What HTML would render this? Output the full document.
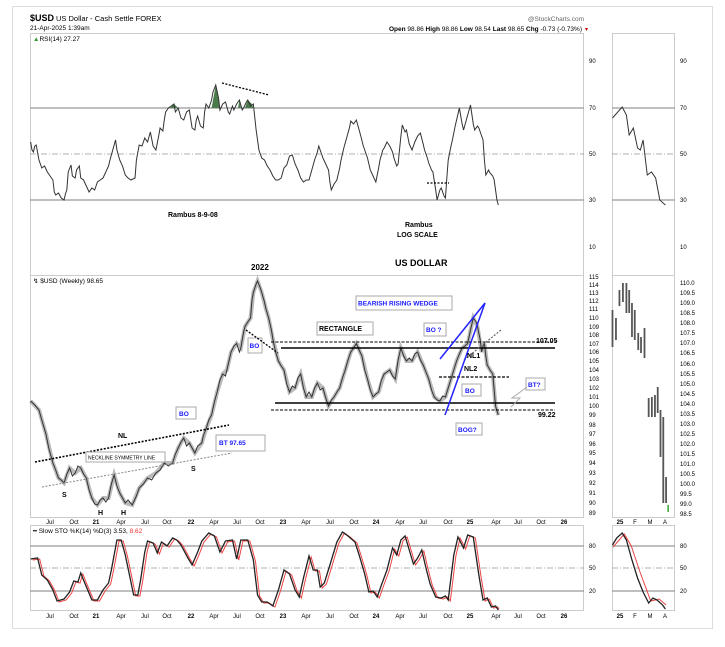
<!DOCTYPE html>
<html><head><meta charset="utf-8"><style>
html,body{margin:0;padding:0;background:#fff;width:725px;height:647px;overflow:hidden}
svg{display:block;font-family:"Liberation Sans",sans-serif}
.t{font-size:7px;fill:#000}
.b{font-weight:bold}
.bl{fill:#1a1aff;font-weight:bold;font-size:6.5px}
</style></head><body>
<svg width="725" height="647" viewBox="0 0 725 647">
<rect x="12.5" y="6.5" width="700" height="622" fill="#fff" stroke="#ddd"/>
<text x="30" y="21" font-size="9" font-weight="bold">$USD</text><text x="56" y="21" font-size="7.5">US Dollar - Cash Settle FOREX</text>
<text x="30" y="30" font-size="6.5">21-Apr-2025 1:39am</text>
<text x="584" y="21" font-size="6.5" fill="#666" text-anchor="end">@StockCharts.com</text>
<text x="582" y="31" font-size="6.5" text-anchor="end"><tspan font-weight="bold">Open</tspan> 98.86 <tspan font-weight="bold">High</tspan> 98.86 <tspan font-weight="bold">Low</tspan> 98.54 <tspan font-weight="bold">Last</tspan> 98.65 <tspan font-weight="bold">Chg</tspan> -0.73 (-0.73%)</text>
<text x="585" y="31" font-size="6" fill="#c00">▾</text>
<g fill="none" stroke="#ccc">
<rect x="30.5" y="33.5" width="553" height="242"/>
<rect x="30.5" y="275.5" width="553" height="242"/>
<rect x="30.5" y="525.5" width="553" height="85"/>
<rect x="612.5" y="33.5" width="62" height="242"/>
<rect x="612.5" y="275.5" width="62" height="242"/>
<rect x="612.5" y="525.5" width="62" height="85"/>
</g>
<text x="33" y="41" font-size="6.5"><tspan fill="#393">▲</tspan>RSI(14) 27.27</text>
<text x="33" y="283" font-size="6.5">↯ $USD (Weekly) 98.65</text>
<text x="33" y="533" font-size="6.5">━ Slow STO %K(14) %D(3) 3.53, <tspan fill="#e33">8.62</tspan></text>
<g stroke="#999" stroke-width="1.2">
<line x1="30" y1="108" x2="584" y2="108"/><line x1="30" y1="200" x2="584" y2="200"/>
<line x1="612" y1="108" x2="675" y2="108"/><line x1="612" y1="200" x2="675" y2="200"/>
<line x1="30" y1="546" x2="584" y2="546"/><line x1="30" y1="591" x2="584" y2="591"/>
<line x1="612" y1="546" x2="675" y2="546"/><line x1="612" y1="591" x2="675" y2="591"/>
</g>
<g stroke="#999" stroke-width="0.8" stroke-dasharray="6,2,1,2">
<line x1="30" y1="154" x2="584" y2="154"/><line x1="612" y1="154" x2="675" y2="154"/>
<line x1="30" y1="568" x2="584" y2="568"/><line x1="612" y1="568" x2="675" y2="568"/>
</g>
<g font-size="6" fill="#000">
<text x="589" y="63">90</text><text x="589" y="110">70</text><text x="589" y="156">50</text><text x="589" y="202">30</text><text x="589" y="249">10</text>
<text x="680" y="63">90</text><text x="680" y="110">70</text><text x="680" y="156">50</text><text x="680" y="202">30</text><text x="680" y="249">10</text>
<text x="589" y="548">80</text><text x="589" y="570">50</text><text x="589" y="593">20</text>
<text x="680" y="548">80</text><text x="680" y="570">50</text><text x="680" y="593">20</text>
<text x="589" y="279">115</text><text x="589" y="287">114</text><text x="589" y="295">113</text><text x="589" y="303">112</text><text x="589" y="311">111</text><text x="589" y="320">110</text><text x="589" y="329">109</text><text x="589" y="337">108</text><text x="589" y="346">107</text><text x="589" y="354">106</text><text x="589" y="363">105</text><text x="589" y="372">104</text><text x="589" y="381">103</text><text x="589" y="390">102</text><text x="589" y="399">101</text><text x="589" y="408">100</text><text x="589" y="417">99</text><text x="589" y="427">98</text><text x="589" y="436">97</text><text x="589" y="446">96</text><text x="589" y="455">95</text><text x="589" y="465">94</text><text x="589" y="475">93</text><text x="589" y="485">92</text><text x="589" y="495">91</text><text x="589" y="505">90</text><text x="589" y="515">89</text>
<text x="680" y="285">110.0</text><text x="680" y="295">109.5</text><text x="680" y="305">109.0</text><text x="680" y="315">108.5</text><text x="680" y="325">108.0</text><text x="680" y="335">107.5</text><text x="680" y="345">107.0</text><text x="680" y="355">106.5</text><text x="680" y="366">106.0</text><text x="680" y="376">105.5</text><text x="680" y="386">105.0</text><text x="680" y="396">104.5</text><text x="680" y="406">104.0</text><text x="680" y="416">103.5</text><text x="680" y="426">103.0</text><text x="680" y="436">102.5</text><text x="680" y="446">102.0</text><text x="680" y="456">101.5</text><text x="680" y="466">101.0</text><text x="680" y="476">100.5</text><text x="680" y="486">100.0</text><text x="680" y="496">99.5</text><text x="680" y="506">99.0</text><text x="680" y="516">98.5</text>
</g>
<g font-size="6" text-anchor="middle">
<g transform="translate(0,524)"><text x="50">Jul</text><text x="74">Oct</text><text x="96" font-weight="bold">21</text><text x="121">Apr</text><text x="145">Jul</text><text x="167">Oct</text><text x="191" font-weight="bold">22</text><text x="214">Apr</text><text x="237">Jul</text><text x="260">Oct</text><text x="283" font-weight="bold">23</text><text x="306">Apr</text><text x="330">Jul</text><text x="354">Oct</text><text x="376" font-weight="bold">24</text><text x="400">Apr</text><text x="423">Jul</text><text x="448">Oct</text><text x="470" font-weight="bold">25</text><text x="496">Apr</text><text x="518">Jul</text><text x="541">Oct</text><text x="564" font-weight="bold">26</text><text x="620" font-weight="bold">25</text><text x="635">F</text><text x="650">M</text><text x="665">A</text></g>
<g transform="translate(0,618)"><text x="50">Jul</text><text x="74">Oct</text><text x="96" font-weight="bold">21</text><text x="121">Apr</text><text x="145">Jul</text><text x="167">Oct</text><text x="191" font-weight="bold">22</text><text x="214">Apr</text><text x="237">Jul</text><text x="260">Oct</text><text x="283" font-weight="bold">23</text><text x="306">Apr</text><text x="330">Jul</text><text x="354">Oct</text><text x="376" font-weight="bold">24</text><text x="400">Apr</text><text x="423">Jul</text><text x="448">Oct</text><text x="470" font-weight="bold">25</text><text x="496">Apr</text><text x="518">Jul</text><text x="541">Oct</text><text x="564" font-weight="bold">26</text><text x="620" font-weight="bold">25</text><text x="635">F</text><text x="650">M</text><text x="665">A</text></g>
</g>
<g transform="scale(1.392 1)" fill="none">
<polygon fill="#4a7a4a" stroke="none" points="122,108 125,104 128,108"/>
<polygon fill="#4a7a4a" stroke="none" points="152,108 155,85 158,108"/>
<polygon fill="#4a7a4a" stroke="none" points="171,108 172,100 173,108"/>
<polygon fill="#4a7a4a" stroke="none" points="176,108 178,100 181,104 182,108"/>
<polyline vector-effect="non-scaling-stroke" stroke="#333" stroke-width="1" points="22,142 23,150 24,152 25,146 26,145 28,160 30,168 32,166 34,172 36,176 38,180 39,192 40,195 42,193 44,198 46,200 47,194 48,190 49,172 51,165 52,176 54,178 55,170 57,166 58,178 60,180 62,186 64,192 66,188 68,190 70,182 72,180 74,178 76,172 78,166 79,160 81,150 83,140 84,150 86,160 88,166 90,175 92,178 94,180 97,178 98,160 100,145 102,146 104,138 106,142 108,132 110,146 112,150 114,136 115,128 117,131 118,120 119,112 121,108 123,106 125,104 126,112 128,108 130,118 132,120 134,112 136,110 138,128 140,130 141,120 142,116 144,126 146,128 147,112 148,104 150,108 152,100 153,92 155,85 157,98 158,110 160,104 162,102 164,112 165,114 167,106 168,110 170,104 172,100 174,110 175,108 177,102 178,100 180,106 182,104 184,130 186,150 188,158 190,160 192,166 194,170 196,176 198,180 200,180 202,178 204,168 206,165 208,156 210,155 212,164 214,170 216,178 218,182 220,180 222,180 224,170 226,160 228,152 229,146 231,154 232,158 234,164 236,170 237,182 238,190 240,184 242,180 244,168 245,160 247,148 249,138 251,128 252,121 254,124 256,120 258,130 259,135 261,146 262,150 264,158 266,170 268,176 270,182 272,168 273,160 275,150 276,148 278,142 280,146 282,152 283,158 285,166 286,164 288,136 289,125 291,132 292,130 294,144 296,150 298,142 300,136 302,133 304,144 305,150 307,158 308,163 310,170 311,172 313,190 314,200 316,190 317,188 319,196 320,198 321,178 322,160 324,146 325,140 327,126 330,108 332,124 333,130 335,120 336,115 338,105 340,124 341,130 343,126 344,128 346,136 347,140 348,160 349,175 351,170 352,173 354,176 355,180 356,190 357,200 358,205"/>
<polyline vector-effect="non-scaling-stroke" stroke="#333" stroke-width="1" points="440,118 447,107 450,115 452,135 455,128 458,148 460,150 462,140 465,175 468,172 471,178 474,200 478,205"/>
<polyline vector-effect="non-scaling-stroke" stroke="#777" stroke-width="4" opacity="0.5" points="22,401 28,410 33,434 38,463 42,478 46,483 50,468 54,473 58,468 62,478 66,498 70,505 74,498 78,498 82,475 86,493 90,503 95,505 100,488 106,478 112,473 118,463 124,463 128,448 132,438 136,443 140,453 145,443 148,429 152,415 156,392 160,374 163,370 166,352 170,343.5 173,348 176,326.5 180,318 182,292.5 185,281 188,292.5 191,308.6 193,318 196,339 200,361 204,370 208,392 212,388 216,374 220,397 224,397 228,383 232,388 236,406 240,397 244,388 248,370 252,352 256,343.5 260,356 264,379 268,397 272,392 276,374 280,370 284,379 288,348 292,361 296,361 300,352 304,365 308,379 312,397 316,401 320,397 324,379 328,361 332,348 336,343.5 340,318 343,326.5 346,352 348,343.5 350,365 352,370 354,374 356,406 358,415"/>
<polyline vector-effect="non-scaling-stroke" stroke="#333" stroke-width="1" points="22,401 25,405 28,410 30,420 33,434 35,448 38,463 40,470 42,478 44,480 46,483 48,474 50,468 52,476 54,473 56,466 58,468 60,474 62,478 64,490 66,498 68,504 70,505 72,500 74,498 76,502 78,498 80,484 82,475 84,486 86,493 88,498 90,503 92,500 95,505 98,496 100,488 103,484 106,478 109,480 112,473 115,470 118,463 121,466 124,463 126,454 128,448 130,442 132,438 134,446 136,443 138,448 140,453 142,446 145,443 146,436 148,429 150,420 152,415 154,402 156,392 158,380 160,374 162,376 163,370 165,358 166,352 168,346 170,343.5 172,352 173,348 175,332 176,326.5 178,322 180,318 181,300 182,292.5 184,284 185,281 187,288 188,292.5 190,302 191,308.6 193,318 195,330 196,339 198,352 200,361 202,366 204,370 206,384 208,392 210,386 212,388 214,378 216,374 218,388 220,397 222,392 224,397 226,388 228,383 230,390 232,388 234,398 236,406 238,400 240,397 242,392 244,388 246,378 248,370 250,360 252,352 254,348 256,343.5 258,350 260,356 262,370 264,379 266,390 268,397 270,394 272,392 274,380 276,374 278,372 280,370 282,376 284,379 286,360 288,348 290,356 292,361 294,358 296,361 298,354 300,352 302,360 304,365 306,372 308,379 310,390 312,397 314,400 316,401 318,396 320,397 322,388 324,379 326,370 328,361 330,354 332,348 334,346 336,343.5 338,330 340,318 342,322 343,326.5 345,340 346,352 347,346 348,343.5 349,356 350,365 352,370 354,374 355,390 356,406 357,411 358,415"/>
<g stroke="#555" stroke-width="1.8">
<line x1="440" y1="310" x2="440" y2="347" vector-effect="non-scaling-stroke"/>
<line x1="442.5" y1="318" x2="442.5" y2="340" vector-effect="non-scaling-stroke"/>
<line x1="445" y1="290" x2="445" y2="306" vector-effect="non-scaling-stroke"/>
<line x1="447.5" y1="283" x2="447.5" y2="302" vector-effect="non-scaling-stroke"/>
<line x1="450" y1="283" x2="450" y2="313" vector-effect="non-scaling-stroke"/>
<line x1="452" y1="290" x2="452" y2="313" vector-effect="non-scaling-stroke"/>
<line x1="454" y1="303" x2="454" y2="337" vector-effect="non-scaling-stroke"/>
<line x1="456" y1="310" x2="456" y2="340" vector-effect="non-scaling-stroke"/>
<line x1="458.5" y1="333" x2="458.5" y2="350" vector-effect="non-scaling-stroke"/>
<line x1="460.5" y1="337" x2="460.5" y2="353" vector-effect="non-scaling-stroke"/>
<line x1="463" y1="328" x2="463" y2="358" vector-effect="non-scaling-stroke"/>
<line x1="466" y1="398" x2="466" y2="417" vector-effect="non-scaling-stroke"/>
<line x1="468.3" y1="397" x2="468.3" y2="417" vector-effect="non-scaling-stroke"/>
<line x1="470.5" y1="395" x2="470.5" y2="417" vector-effect="non-scaling-stroke"/>
<line x1="472.5" y1="387" x2="472.5" y2="413" vector-effect="non-scaling-stroke"/>
<line x1="474.5" y1="410" x2="474.5" y2="457" vector-effect="non-scaling-stroke"/>
<line x1="476.5" y1="417" x2="476.5" y2="503" vector-effect="non-scaling-stroke"/>
<line x1="478.5" y1="477" x2="478.5" y2="503" vector-effect="non-scaling-stroke"/>
</g>
<line x1="480" y1="505" x2="480" y2="512" stroke="#3a3" stroke-width="1.5" vector-effect="non-scaling-stroke"/>
<g transform="translate(1.5,1)"><polyline vector-effect="non-scaling-stroke" stroke="#e44" stroke-width="1" points="22,559 27,558 30,575 34,580 38,590 41,601 46,599 50,592 53,581 56,582 58,573 60,580 63,590 66,600 70,600 74,590 78,583 80,570 84,540 87,540 90,555 93,575 96,595 99,595 101,580 104,552 106,541 110,543 113,553 116,542 120,546 124,538 127,540 130,545 135,558 138,565 142,552 145,541 150,533 154,536 158,552 162,541 167,540 170,559 173,540 178,540 182,560 185,595 188,602 192,602 196,606 200,590 204,570 208,574 212,590 215,597 218,578 222,556 225,570 228,570 230,587 233,583 237,565 242,542 246,532 250,536 255,542 258,555 262,574 265,592 268,591 271,597 274,585 278,570 282,548 285,555 288,540 291,536 294,550 297,564 300,558 303,550 306,568 309,584 313,597 317,598 320,596 322,600 326,555 329,537 333,548 336,535 340,537 344,575 347,600 350,598 353,607 356,606 357,608"/>
<polyline vector-effect="non-scaling-stroke" stroke="#e44" stroke-width="1" points="439,546 447,533 452,545 458,570 466,600 472,598 477,604"/></g>
<polyline vector-effect="non-scaling-stroke" stroke="#222" stroke-width="1.3" points="22,559 27,558 30,575 34,580 38,590 41,601 46,599 50,592 53,581 56,582 58,573 60,580 63,590 66,600 70,600 74,590 78,583 80,570 84,540 87,540 90,555 93,575 96,595 99,595 101,580 104,552 106,541 110,543 113,553 116,542 120,546 124,538 127,540 130,545 135,558 138,565 142,552 145,541 150,533 154,536 158,552 162,541 167,540 170,559 173,540 178,540 182,560 185,595 188,602 192,602 196,606 200,590 204,570 208,574 212,590 215,597 218,578 222,556 225,570 228,570 230,587 233,583 237,565 242,542 246,532 250,536 255,542 258,555 262,574 265,592 268,591 271,597 274,585 278,570 282,548 285,555 288,540 291,536 294,550 297,564 300,558 303,550 306,568 309,584 313,597 317,598 320,596 322,600 326,555 329,537 333,548 336,535 340,537 344,575 347,600 350,598 353,607 356,606 358,610"/>
<polyline vector-effect="non-scaling-stroke" stroke="#222" stroke-width="1.3" points="440,545 443,538 447,533 450,540 454,560 458,578 462,592 466,603 469,598 472,600 476,605 478,609"/>
</g>
<line x1="222" y1="83" x2="269" y2="95" stroke="#000" stroke-dasharray="2,1.5" stroke-width="1.3"/>
<line x1="427" y1="183" x2="449" y2="183" stroke="#000" stroke-dasharray="2,1.5" stroke-width="1.3"/>
<text x="168" y="217" class="t b" font-size="6.5">Rambus  8-9-08</text>
<text x="405" y="227" class="t b">Rambus</text>
<text x="397" y="237" class="t b" font-size="6">LOG SCALE</text>
<text x="395" y="266" font-size="9" font-weight="bold">US DOLLAR</text>
<text x="251" y="270" font-size="8" font-weight="bold">2022</text>
<line x1="35" y1="462" x2="229" y2="425" stroke="#000" stroke-dasharray="2,1.5" stroke-width="1.6"/>
<line x1="42" y1="487" x2="232" y2="453" stroke="#888" stroke-dasharray="2,1.5" stroke-width="1"/>
<text x="118" y="438" class="t b" font-size="8">NL</text>
<rect x="86" y="452" width="79" height="10" fill="#fff" stroke="#aaa"/>
<text x="88" y="459.5" font-size="5">NECKLINE SYMMETRY LINE</text>
<text x="62" y="497" class="t b" font-size="7.5">S</text><text x="98" y="515" class="t b" font-size="7.5">H</text><text x="121" y="515" class="t b" font-size="7.5">H</text><text x="191" y="471" class="t b" font-size="7.5">S</text>
<rect x="176" y="407" width="20" height="12" fill="#fff" stroke="#aaa"/><text x="179" y="416" class="bl">BO</text>
<rect x="216" y="435" width="49" height="16" fill="#fff" stroke="#aaa"/><text x="219" y="445" class="bl">BT 97.65</text>
<rect x="248" y="338" width="14" height="15" fill="#fff" stroke="#aaa"/><text x="249.5" y="348" class="bl" font-weight="normal">BO</text>
<line x1="246" y1="330" x2="278" y2="353" stroke="#000" stroke-dasharray="2,1.5" stroke-width="1.3"/>
<rect x="317" y="322" width="56" height="13" fill="#fff" stroke="#aaa"/><text x="319" y="331" class="t b" font-size="6.5">RECTANGLE</text>
<rect x="356" y="296" width="96" height="14" fill="#fff" stroke="#aaa"/><text x="358" y="305.5" class="bl">BEARISH RISING WEDGE</text>
<rect x="424" y="323" width="22" height="13" fill="#fff" stroke="#aaa"/><text x="426" y="332" class="bl">BO ?</text>
<line x1="271" y1="342" x2="557" y2="342" stroke="#000" stroke-dasharray="3,1.5" stroke-width="0.9"/>
<text x="536" y="343" class="t b" font-size="6.5">107.05</text>
<line x1="281" y1="348" x2="555" y2="348" stroke="#000" stroke-width="1.5"/>
<line x1="275" y1="403" x2="555" y2="403" stroke="#000" stroke-width="1.5"/>
<line x1="271" y1="410" x2="555" y2="410" stroke="#000" stroke-dasharray="3,1.5" stroke-width="0.9"/>
<text x="538" y="417" class="t b" font-size="6.5">99.22</text>
<line x1="439" y1="377" x2="509" y2="377" stroke="#000" stroke-dasharray="3,1.5" stroke-width="1.2"/>
<line x1="464" y1="360" x2="501" y2="330" stroke="#666" stroke-dasharray="2,1.5" stroke-width="1.2"/>
<line x1="440" y1="359" x2="485" y2="303" stroke="#22f" stroke-width="1.5"/>
<line x1="445" y1="415" x2="485" y2="303" stroke="#22f" stroke-width="1.5"/>
<text x="467" y="358" class="t b" font-size="6.5">NL1</text>
<text x="464" y="371" class="t b" font-size="6.5">NL2</text>
<rect x="462" y="384" width="19" height="12" fill="#fff" stroke="#aaa"/><text x="465" y="393" class="bl" font-weight="normal">BO</text>
<rect x="526" y="378" width="19" height="12" fill="#fff" stroke="#aaa"/><text x="528" y="387" class="bl">BT?</text>
<polyline points="527,387 512,398 520,398 511,407" fill="none" stroke="#aaa"/>
<rect x="456" y="423" width="26" height="12" fill="#fff" stroke="#aaa"/><text x="458" y="432" class="bl">BOG?</text>
</svg>
</body></html>
